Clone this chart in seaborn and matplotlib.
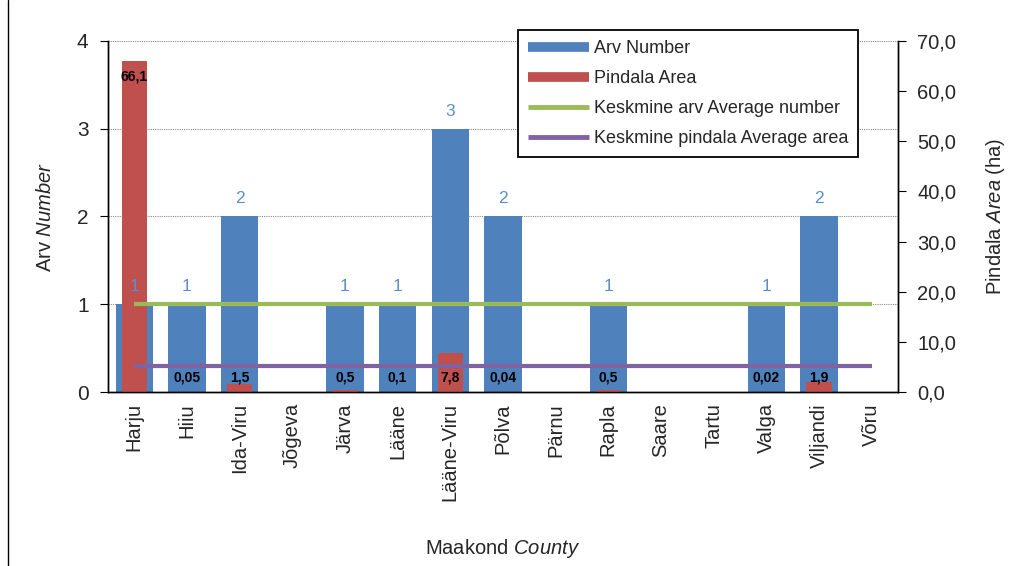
import matplotlib
matplotlib.use("Agg")
import matplotlib.pyplot as plt
from matplotlib.lines import Line2D
from matplotlib.ticker import FixedLocator, FuncFormatter
import pandas as pd
import seaborn as sns

# Andmed
counties = ["Harju", "Hiiu", "Ida-Viru", "Jõgeva", "Järva", "Lääne", "Lääne-Viru",
            "Põlva", "Pärnu", "Rapla", "Saare", "Tartu", "Valga", "Viljandi", "Võru"]
arv = [1, 1, 2, 0, 1, 1, 3, 2, 0, 1, 0, 0, 1, 2, 0]
pindala = [66.1, 0.05, 1.5, 0, 0.5, 0.1, 7.8, 0.04, 0, 0.5, 0, 0, 0.02, 1.9, 0]
area_labels = ["66,1", "0,05", "1,5", "", "0,5", "0,1", "7,8", "0,04", "", "0,5", "", "", "0,02", "1,9", ""]

df = pd.DataFrame({"Maakond": counties, "Arv": arv, "Pindala": pindala})
avg_arv = df["Arv"].mean()
avg_pindala = df["Pindala"].mean()

sns.set_style("white")
plt.rcParams["font.family"] = ["Liberation Sans", "DejaVu Sans"]
plt.rcParams["mathtext.fontset"] = "custom"
plt.rcParams["mathtext.rm"] = "Liberation Sans"
plt.rcParams["mathtext.it"] = "Liberation Sans:italic"

c_blue = "#4F81BD"
c_red = "#C0504D"
c_green = "#9BBB59"
c_purple = "#8064A2"

fig = plt.figure(figsize=(10.12, 5.66), dpi=100)
ax = fig.add_axes([0.1067, 0.3074, 0.7806, 0.6202])
ax2 = ax.twinx()

# sinised tulbad - arv
sns.barplot(data=df, x="Maakond", y="Arv", order=counties, color=c_blue,
            saturation=1, width=0.71, ax=ax, zorder=2, linewidth=0)
# punased tulbad - pindala
sns.barplot(data=df, x="Maakond", y="Pindala", order=counties, color=c_red,
            saturation=1, width=0.48, ax=ax2, zorder=2, linewidth=0)

ax.set_xlim(-0.5, len(counties) - 0.5)
ax.set_ylim(0, 4)
ax2.set_ylim(0, 70)
ax.set_yticks([0, 1, 2, 3, 4])
ax2.set_yticks(range(0, 71, 10))
ax2.yaxis.set_major_formatter(FuncFormatter(lambda v, p: f"{v:.1f}".replace(".", ",")))

# ruudustik
for y in [1, 2, 3, 4]:
    ax.axhline(y, color="#888888", lw=0.8, ls=(0, (1, 1)), zorder=0)

# keskmised jooned
ax2.plot([0, len(counties) - 1], [avg_arv, avg_arv], color=c_green, lw=3,
         transform=ax.transData, zorder=5, solid_capstyle="butt")
ax2.plot([0, len(counties) - 1], [avg_pindala, avg_pindala], color=c_purple, lw=3,
         zorder=5, solid_capstyle="butt")

# sildid
for i, v in enumerate(arv):
    if v > 0:
        ax2.text(i, v + 0.2, str(v), transform=ax.transData, ha="center", va="center",
                 color="#5B8FCC", fontsize=12.5, zorder=6)
for i, (v, lab) in enumerate(zip(pindala, area_labels)):
    if lab:
        y = v - 3.2 if v > 10 else 2.8
        ax2.text(i, y, lab, ha="center", va="center", color="black",
                 fontsize=10, fontweight="bold", zorder=6)

# teljed
for a in (ax, ax2):
    a.spines["top"].set_visible(False)
    for s in ["left", "right", "bottom"]:
        a.spines[s].set_color("black")
        a.spines[s].set_linewidth(1)
ax.set_xticks(range(len(counties)))
ax.set_xticklabels(counties, rotation=90, fontsize=14.5)
ax.xaxis.set_minor_locator(FixedLocator([i - 0.5 for i in range(len(counties) + 1)]))
ax.tick_params(axis="x", which="major", length=0, pad=8)
ax.tick_params(axis="x", which="minor", length=6, color="black", direction="out")
ax.tick_params(axis="y", length=6, color="black", direction="out", labelsize=15, left=True, pad=8)
ax2.tick_params(axis="y", length=6, color="black", direction="out", labelsize=14.5, right=True, pad=8)
ax2.set_xlabel("")

ax.set_ylabel(r"Arv $\it{Number}$", fontsize=14.5, labelpad=16)
ax2.set_ylabel(r"Pindala $\it{Area}$ (ha)", fontsize=14.5, labelpad=20)
ax.set_xlabel(r"Maakond $\it{County}$", fontsize=14.5, labelpad=26)

# legend
handles = [Line2D([0], [0], color=c_blue, lw=7, solid_capstyle="butt"),
           Line2D([0], [0], color=c_red, lw=7, solid_capstyle="butt"),
           Line2D([0], [0], color=c_green, lw=3.5, solid_capstyle="butt"),
           Line2D([0], [0], color=c_purple, lw=3.5, solid_capstyle="butt")]
labels = ["Arv Number", "Pindala Area", "Keskmine arv Average number", "Keskmine pindala Average area"]
leg = ax2.legend(handles, labels, loc="upper left", bbox_to_anchor=(0.512, 0.947),
                 bbox_transform=fig.transFigure, fontsize=13, frameon=True, fancybox=False,
                 framealpha=1, edgecolor="black", handlelength=3.4, handletextpad=0.25,
                 labelspacing=0.72, borderpad=0.55, borderaxespad=0)
leg.get_frame().set_linewidth(1.3)
leg.set_zorder(10)

# vasak äärejoon
fig.add_artist(Line2D([8 / 1012, 8 / 1012], [0, 1], color="black", lw=1, transform=fig.transFigure))

fig.savefig("out.png", dpi=100)
